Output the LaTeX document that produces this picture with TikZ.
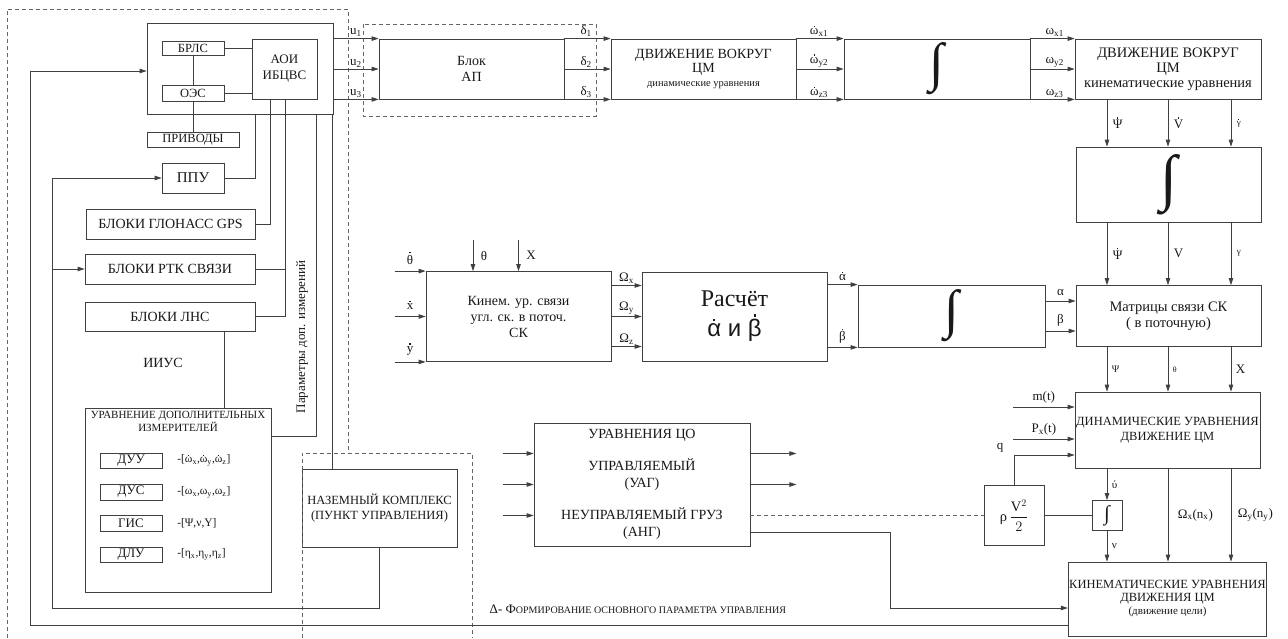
\documentclass[tikz,border=0pt]{standalone}
\usepackage{fontspec}
\usepackage{graphicx}
\setmainfont{Liberation Serif}
\newfontfamily\arialfont{Liberation Sans}
\usetikzlibrary{arrows.meta,positioning}
\newcommand\dotx[1]{\leavevmode\setbox0\hbox{#1}\rlap{\hbox to\wd0{\hss\raisebox{\dimexpr\ht0+0.12em\relax}{\rule{0.1em}{0.1em}}\hss}}\box0}
\newcommand\bigint[1]{\resizebox{!}{#1}{∫}}

\begin{document}
\begin{tikzpicture}[x=1pt,y=-1pt, color=black!75, line width=0.8pt,
  font=\fontsize{14.5}{16}\selectfont,
  blk/.style={draw, rectangle, inner sep=1pt, align=center, text=black!90},
  arr/.style={-{Triangle[length=7pt,width=4.5pt]}},
  dashln/.style={dash pattern=on 4pt off 3pt, color=black!60},
  lbl/.style={font=\fontsize{13}{14}\selectfont, inner sep=1.5pt, text=black!90},
  lbls/.style={font=\fontsize{9}{10}\selectfont, inner sep=1.5pt, text=black!90}]
\fill[white] (0,0) rectangle (1288,638);
\useasboundingbox (0,0) rectangle (1288,638);

% ИИУС
\node[blk, minimum width=186pt, minimum height=91pt] (ctrl) at (240,68.5) {};
\node[blk, minimum width=62pt, minimum height=14pt, font=\fontsize{12.5}{13}\selectfont] (brls) at (193,48) {БРЛС};
\node[blk, minimum width=62pt, minimum height=16pt, font=\fontsize{12.5}{13}\selectfont] (oes) at (193,93) {ОЭС};
\node[blk, minimum width=65pt, minimum height=60pt, font=\fontsize{13}{16}\selectfont] (aoi) at (284.5,69) {АОИ\\ИБЦВС};
\node[blk, minimum width=92pt, minimum height=15pt, font=\fontsize{12.5}{13}\selectfont] (priv) at (193,139.5) {ПРИВОДЫ};
\node[blk, minimum width=62pt, minimum height=30pt, font=\fontsize{15}{16}\selectfont] (ppu) at (193,178) {ППУ};
\node[blk, minimum width=169pt, minimum height=30pt, font=\fontsize{14}{16}\selectfont] (glon) at (170.5,224) {БЛОКИ ГЛОНАСС GPS};
\node[blk, minimum width=170pt, minimum height=30pt, font=\fontsize{14}{16}\selectfont] (rtk) at (170,269) {БЛОКИ РТК СВЯЗИ};
\node[blk, minimum width=170pt, minimum height=29pt, font=\fontsize{14}{16}\selectfont] (lns) at (170,316.5) {БЛОКИ ЛНС};
\node[text=black!90, font=\fontsize{14}{16}\selectfont] (iius) at (163,363) {ИИУС};
\node[blk, minimum width=186pt, minimum height=184pt] (uvn) at (178,500) {};
\node[lbl, anchor=north, align=center, font=\fontsize{11}{13}\selectfont] (uvnt) at ([yshift=-2pt]uvn.north) {УРАВНЕНИЕ ДОПОЛНИТЕЛЬНЫХ\\ИЗМЕРИТЕЛЕЙ};
\node[blk, minimum width=62pt, minimum height=15pt, font=\fontsize{13}{13}\selectfont] (duu) at (131,460.5) {ДУУ};
\node[blk, minimum width=62pt, minimum height=16pt, font=\fontsize{13}{13}\selectfont] (dus) at (131,492) {ДУС};
\node[blk, minimum width=62pt, minimum height=16pt, font=\fontsize{13}{13}\selectfont] (gis) at (131,523) {ГИС};
\node[blk, minimum width=62pt, minimum height=15pt, font=\fontsize{13}{13}\selectfont] (dlu) at (131,554.5) {ДЛУ};
\node[lbl, anchor=west, font=\fontsize{11.5}{12}\selectfont] (fduu) at ([xshift=13pt]duu.east) {-[\dotx{ω}\textsubscript{x},\dotx{ω}\textsubscript{y},\dotx{ω}\textsubscript{z}]};
\node[lbl, anchor=west, font=\fontsize{11.5}{12}\selectfont] (fdus) at ([xshift=13pt]dus.east) {-[ω\textsubscript{x},ω\textsubscript{y},ω\textsubscript{z}]};
\node[lbl, anchor=west, font=\fontsize{11.5}{12}\selectfont] (fgis) at ([xshift=13pt]gis.east) {-[Ψ,ν,Υ]};
\node[lbl, anchor=west, font=\fontsize{11.5}{12}\selectfont] (fdlu) at ([xshift=13pt]dlu.east) {-[η\textsubscript{x},η\textsubscript{y},η\textsubscript{z}]};
\node[blk, minimum width=155pt, minimum height=78pt, font=\fontsize{12.5}{15}\selectfont] (nk) at (379.5,508) {НАЗЕМНЫЙ КОМПЛЕКС\\(ПУНКТ УПРАВЛЕНИЯ)};
\node[rotate=90, text=black!90, font=\fontsize{13}{14}\selectfont] (par) at (302,337) {Параметры доп. измерений};

% верхняя цепочка
\node[blk, minimum width=185pt, minimum height=60pt, font=\fontsize{14}{16}\selectfont] (ap) at (471.5,69) {Блок\\АП};
\node[blk, minimum width=185pt, minimum height=60pt, font=\fontsize{14}{14}\selectfont] (dyn) at (703.5,69) {ДВИЖЕНИЕ ВОКРУГ\\ЦМ\\{\fontsize{10.5}{12}\selectfont динамические уравнения}};
\node[blk, minimum width=186pt, minimum height=60pt] (int1) at (937,69) {\bigint{38pt}};
\node[blk, minimum width=186pt, minimum height=60pt, font=\fontsize{14.5}{15}\selectfont] (kin) at (1168,69) {ДВИЖЕНИЕ ВОКРУГ\\ЦМ\\кинематические уравнения};
\node[blk, minimum width=185pt, minimum height=75pt] (int2) at (1168.5,184.5) {\bigint{44pt}};
\node[blk, minimum width=185pt, minimum height=61pt] (mat) at (1168.5,316) {Матрицы связи СК\\( в поточную)};
\node[blk, minimum width=185pt, minimum height=76pt, font=\fontsize{12.5}{15}\selectfont] (dynm) at (1167.5,430) {ДИНАМИЧЕСКИЕ УРАВНЕНИЯ\\ДВИЖЕНИЕ ЦМ};
\node[blk, minimum width=185pt, minimum height=74pt, font=\fontsize{12.5}{13}\selectfont] (kinm) at (1167.5,599) {КИНЕМАТИЧЕСКИЕ УРАВНЕНИЯ\\ДВИЖЕНИЯ ЦМ\\{\fontsize{11}{12}\selectfont (движение цели)}};

% средняя цепочка
\node[blk, minimum width=185pt, minimum height=90pt, font=\fontsize{14}{16}\selectfont] (kinem) at (518.5,316.5) {Кинем. ур. связи\\угл. ск. в поточ.\\СК};
\node[blk, minimum width=185pt, minimum height=89pt, font=\fontsize{24}{30}\selectfont] (rasch) at (734.5,316.5) {Расчёт\\{\arialfont \dotx{α}~и~\dotx{β}}};
\node[blk, minimum width=187pt, minimum height=62pt] (int3) at (951.5,316) {\bigint{38pt}};

% нижняя часть
\node[blk, minimum width=216pt, minimum height=123pt, font=\fontsize{14}{17}\selectfont] (co) at (642,484.5) {УРАВНЕНИЯ ЦО\\[15pt]УПРАВЛЯЕМЫЙ\\(УАГ)\\[15pt]НЕУПРАВЛЯЕМЫЙ ГРУЗ\\(АНГ)};
\node[blk, minimum width=60pt, minimum height=60pt] (rho) at (1014,515.5) {ρ\,$\displaystyle\frac{\mathrm{V}^2}{2}$};
\node[blk, minimum width=30pt, minimum height=30pt] (sint) at (1107,515.5) {\bigint{15pt}};
\node[lbl] (lq) at (1000,448) {q};
\node[anchor=west, text=black!90, font=\fontsize{13}{14}\selectfont] (delta) at (486,609) {Δ- Ф{\fontsize{10}{12}\selectfont ОРМИРОВАНИЕ ОСНОВНОГО ПАРАМЕТРА УПРАВЛЕНИЯ}};

% пунктир
\draw[dashln] (7,638) -- (7,9) -- (348,9) -- (348,453);
\draw[dashln] (302,638) -- (302,453) -- (472,453) -- (472,638);
\draw[dashln] (363,24) rectangle (596,116);

% связи ИИУС
\draw (brls) -- (oes);
\draw (oes) -- (priv);
\draw (brls.east) -- (brls.east -| aoi.west);
\draw (oes.east) -- (oes.east -| aoi.west);
\coordinate (bp) at ([xshift=31pt]ppu.east);
\draw (ppu.east) -| (bp |- ctrl.south);
\coordinate (bg) at ([xshift=19pt]aoi.south west);
\draw (bg) |- (glon.east);
\coordinate (bus) at ([xshift=34pt]aoi.south west);
\draw (bus) |- (lns.east);
\draw (rtk.east) -- (rtk.east -| bus);
\coordinate (bl) at ([xshift=-31pt]lns.south east);
\draw (bl) -- (bl |- uvn.north);
\coordinate (bu) at ([xshift=-17pt]ctrl.south east);
\draw (bu) |- ([yshift=-29pt]uvn.north east);
\coordinate (bn) at ([xshift=-1pt]ctrl.south east);
\draw (bn) -- (bn |- nk.north);

% u, delta, omega
\draw[arr] (ctrl.east |- ap.north west) -- (ap.north west) node[lbl, pos=0.5, above] (lu1) {u\textsubscript{1}};
\draw[arr] (ctrl.east |- ap.west) -- (ap.west) node[lbl, pos=0.5, above] (lu2) {u\textsubscript{2}};
\draw[arr] (ctrl.east |- ap.south west) -- (ap.south west) node[lbl, pos=0.5, above] (lu3) {u\textsubscript{3}};
\draw[arr] (ap.north east) -- (dyn.north west) node[lbl, pos=0.47, above] (ld1) {δ\textsubscript{1}};
\draw[arr] (ap.east) -- (dyn.west) node[lbl, pos=0.47, above] (ld2) {δ\textsubscript{2}};
\draw[arr] (ap.south east) -- (dyn.south west) node[lbl, pos=0.47, above] (ld3) {δ\textsubscript{3}};
\draw[arr] (dyn.north east) -- (int1.north west) node[lbl, pos=0.48, above] (lw1) {\dotx{ω}\textsubscript{x1}};
\draw[arr] (dyn.east) -- (int1.west) node[lbl, pos=0.48, above] (lw2) {\dotx{ω}\textsubscript{y2}};
\draw[arr] (dyn.south east) -- (int1.south west) node[lbl, pos=0.48, above] (lw3) {\dotx{ω}\textsubscript{z3}};
\draw[arr] (int1.north east) -- (kin.north west) node[lbl, pos=0.55, above] (lo1) {ω\textsubscript{x1}};
\draw[arr] (int1.east) -- (kin.west) node[lbl, pos=0.55, above] (lo2) {ω\textsubscript{y2}};
\draw[arr] (int1.south east) -- (kin.south west) node[lbl, pos=0.55, above] (lo3) {ω\textsubscript{z3}};

% правый столбец
\coordinate (c1) at ([xshift=-61pt]kin.south);
\coordinate (c2) at (kin.south);
\coordinate (c3) at ([xshift=63pt]kin.south);
\draw[arr] (c1) -- (c1 |- int2.north) node[lbl, midway, right=4pt] (lk1) {\dotx{Ψ}};
\draw[arr] (c2) -- (c2 |- int2.north) node[lbl, midway, right=4pt] (lk2) {\dotx{V}};
\draw[arr] (c3) -- (c3 |- int2.north) node[lbls, midway, right=4pt] (lk3) {\dotx{γ}};
\draw[arr] (c1 |- int2.south) -- (c1 |- mat.north) node[lbl, midway, right=4pt] (li1) {\dotx{Ψ}};
\draw[arr] (c2 |- int2.south) -- (c2 |- mat.north) node[lbl, midway, right=4pt] (li2) {V};
\draw[arr] (c3 |- int2.south) -- (c3 |- mat.north) node[lbls, midway, right=4pt] (li3) {γ};
\draw[arr] (c1 |- mat.south) -- (c1 |- dynm.north) node[lbls, font=\fontsize{10}{10}\selectfont, midway, right=3pt] (lm1) {Ψ};
\draw[arr] (c2 |- mat.south) -- (c2 |- dynm.north) node[lbls, font=\fontsize{8}{8}\selectfont, midway, right=3pt] (lm2) {θ};
\draw[arr] (c3 |- mat.south) -- (c3 |- dynm.north) node[lbl, midway, right=3pt] (lm3) {X};
\draw[arr] (c2 |- dynm.south) -- (c2 |- kinm.north) node[lbl, midway, right=8pt] (lox) {Ω\textsubscript{x}(n\textsubscript{x})};
\draw[arr] (c3 |- dynm.south) -- (c3 |- kinm.north) node[lbl, midway, right=5pt] (loy) {Ω\textsubscript{y}(n\textsubscript{y})};
\draw[arr] (sint.north |- dynm.south) -- (sint.north) node[lbls, font=\fontsize{11}{11}\selectfont, midway, right=3pt] (lv1) {ύ};
\draw[arr] (sint.south) -- (sint.south |- kinm.north) node[lbls, font=\fontsize{11}{11}\selectfont, midway, right=3pt] (lv2) {ν};
\coordinate (mt) at (1013,407);
\coordinate (pt) at (1013,439);
\draw[arr] (mt) -- (mt -| dynm.west) node[lbl, midway, above=2pt] (lmt) {m(t)};
\draw[arr] (pt) -- (pt -| dynm.west) node[lbl, midway, above=2pt] (lpt) {P\textsubscript{x}(t)};
\draw[arr] (rho.north) |- ([yshift=-25pt]dynm.west);
\draw (rho.east) -- (sint.west);

% средние связи
\coordinate (th) at ([xshift=-45.5pt]kinem.north);
\draw[arr] ([yshift=31pt]th) -- (th) node[lbl, pos=0.5, right=6pt] (lth) {θ};
\draw[arr] ([yshift=31pt]kinem.north) -- (kinem.north) node[lbl, pos=0.5, right=6pt] (lx) {X};
\draw[arr] ([xshift=-31pt]kinem.north west) -- (kinem.north west) node[lbl, midway, above=5pt] (lth1) {\dotx{θ}};
\draw[arr] ([xshift=-31pt]kinem.west) -- (kinem.west) node[lbl, midway, above=5pt] (lx1) {\dotx{x}};
\draw[arr] ([xshift=-31pt]kinem.south west) -- (kinem.south west) node[lbl, midway, above=5pt] (ly1) {\dotx{y}};
\draw[arr] ([yshift=31pt]kinem.east) -- ([yshift=31pt]rasch.west) node[lbl, midway, above] (lOx) {Ω\textsubscript{x}};
\draw[arr] (kinem.east) -- (rasch.west) node[lbl, midway, above] (lOy) {Ω\textsubscript{y}};
\draw[arr] ([yshift=-30pt]kinem.east) -- ([yshift=-30pt]rasch.west) node[lbl, midway, above] (lOz) {Ω\textsubscript{z}};
\draw[arr] (rasch.east |- int3.north west) -- (int3.north west) node[lbl, midway, above=2pt] (lad) {\dotx{α}};
\draw[arr] (rasch.east |- int3.south west) -- (int3.south west) node[lbl, midway, above=2pt] (lbd) {\dotx{β}};
\draw[arr] ([yshift=15pt]int3.east) -- ([yshift=15pt]mat.west) node[lbl, midway, above=3pt] (la) {α};
\draw[arr] ([yshift=-15pt]int3.east) -- ([yshift=-15pt]mat.west) node[lbl, midway, above=3pt] (lb) {β};

% ЦО
\foreach \dy in {31,0,-31}
  \draw[arr] ([xshift=-31pt,yshift=\dy pt]co.west) -- ([yshift=\dy pt]co.west);
\coordinate (o1) at ([xshift=46pt,yshift=31pt]co.east);
\coordinate (o2) at ([xshift=46pt]co.east);
\draw[arr] ([yshift=31pt]co.east) -- (o1);
\draw[arr] (co.east) -- (o2);
\draw[dashln] ([yshift=-31pt]co.east) -- (rho.west);
\draw[arr] ([yshift=-47.5pt]co.east) -- ++(140,0) |- ([yshift=-9pt]kinm.west);

% обратные связи
\draw[arr] ([yshift=-26pt]kinm.west) -- ++(-1037,0) |- ([yshift=-2.5pt]ctrl.west);
\coordinate (fb) at ([xshift=-32pt]rtk.west);
\draw[arr] (nk.south) -- ++(0,61) -| (fb) |- (ppu.west);
\draw[arr] (fb) -- (rtk.west);
\end{tikzpicture}
\end{document}
